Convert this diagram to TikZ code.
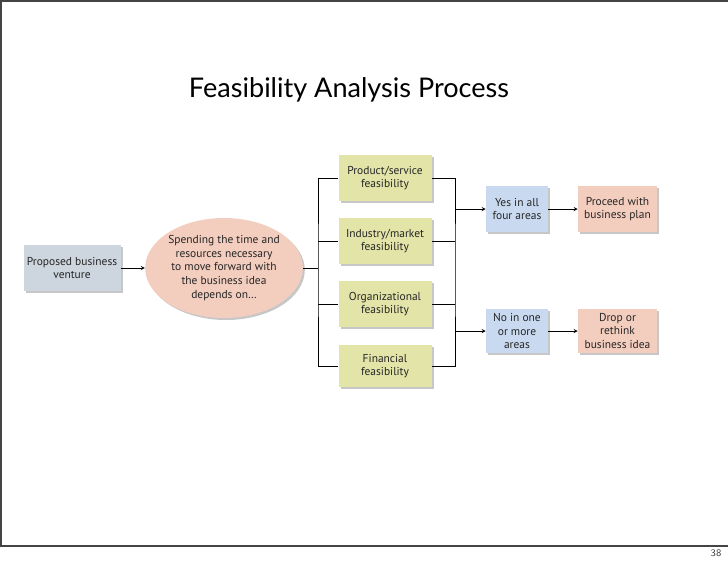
\documentclass[tikz,border=0pt]{standalone}
\usepackage{fontspec}
\setmainfont{PT Sans}
\newfontfamily\titlefont{Lato}
\usetikzlibrary{shapes.geometric,shadows}

\definecolor{slatebox}{RGB}{205,213,222}
\definecolor{salmonbox}{RGB}{243,205,190}
\definecolor{olivebox}{RGB}{226,228,168}
\definecolor{bluebox}{RGB}{201,218,240}
\definecolor{framegray}{RGB}{68,68,68}

\tikzset{
  shade/.style={drop shadow={shadow xshift=1.5pt,shadow yshift=-1.5pt,fill=black,opacity=0.22}},
  box/.style={shade,inner sep=0pt,align=center,text=black!85,font=\fontsize{8.6}{9.8}\selectfont},
  feasbox/.style={box,fill=olivebox,minimum width=69.75pt,minimum height=34pt},
  answerbox/.style={box,fill=bluebox,minimum width=46.5pt,minimum height=34pt},
  resultbox/.style={box,fill=salmonbox,minimum width=59.25pt,minimum height=34pt}
}

\begin{document}
\begin{tikzpicture}[x=0.75pt,y=-0.75pt,>=stealth]
				\useasboundingbox (0,0) rectangle (728,561);
				% slide frame
				\draw[framegray,line width=1.5pt] (728,1) -- (1,1) -- (1,546) -- (728,546);
				\node[anchor=base,font=\titlefont\fontsize{20.3}{24}\selectfont] (title) at (349,97) {Feasibility Analysis Process};
				\node[font=\sffamily\fontsize{7.5}{8}\selectfont,text=darkgray] (page) at (716,553) {38};
				% left part
				\node[box,fill=slatebox,minimum width=72.75pt,minimum height=34.5pt] (venture) at (72,268) {Proposed business\\venture};
				\node[ellipse,shade,fill=salmonbox,inner sep=0pt,minimum width=108pt,minimum height=75pt,align=center,text=black!85,font=\fontsize{8.6}{10.2}\selectfont] (spend) at (224,268) {Spending the time and\\resources necessary\\to move forward with\\the business idea\\depends on\ldots};
				\draw[->] (venture) -- (spend);
				% the four areas
				\node[feasbox] (product) at (385,178) {Product/service\\feasibility};
				\node[feasbox] (industry) at (385,241) {Industry/market\\feasibility};
				\node[feasbox] (organiz) at (385,304) {Organizational\\feasibility};
				\node[feasbox,minimum height=32pt] (financ) at (385,366) {Financial\\feasibility};
				\coordinate (lb) at (318,268);
				\coordinate (rb) at (455,268);
				\draw (spend.east) -- (lb);
				\draw (product.west) -| (lb) |- (financ.west);
				\draw (industry.west) -- (industry.west -| lb);
				\draw (organiz.west) -- (organiz.west -| lb);
				\draw (product.east) -| (rb) |- (financ.east);
				\draw (industry.east) -- (industry.east -| rb);
				\draw (organiz.east) -- (organiz.east -| rb);
				% outcomes
				\node[answerbox] (yes) at (517,209) {Yes in all\\four areas};
				\node[answerbox,minimum height=33pt] (no) at (517,331) {No in one\\or more\\areas};
				\node[resultbox] (proceed) at (617.5,209) {Proceed with\\business plan};
				\node[resultbox,minimum height=33pt] (drop) at (617.5,331) {Drop or\\rethink\\business idea};
				\draw[->] (yes.west -| rb) -- (yes);
				\draw[->] (no.west -| rb) -- (no);
				\draw[->] (yes) -- (proceed);
				\draw[->] (no) -- (drop);
			\end{tikzpicture}
\end{document}
